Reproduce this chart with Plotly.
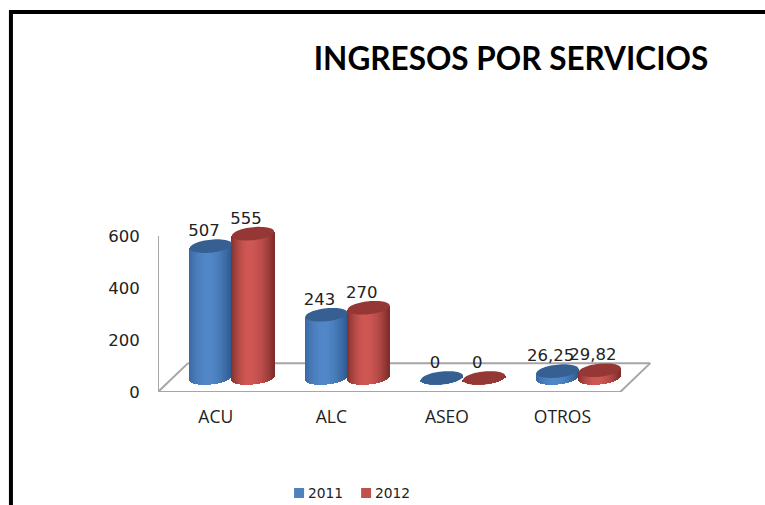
import numpy as np
import plotly.graph_objects as go

categories = ["ACU", "ALC", "ASEO", "OTROS"]
values_2011 = [507, 243, 0, 26.25]
values_2012 = [555, 270, 0, 29.82]
labels_2011 = ["507", "243", "0", "26,25"]
labels_2012 = ["555", "270", "0", "29,82"]
y_ticks = [0, 200, 400, 600]
series_names = ["2011", "2012"]
series_colors = ["#4f81bd", "#c0504d"]

W, H = 765, 505
L, R, T, B = 158, 87.25, 210, 113
PW, PH = W - L - R, H - T - B
X_MAX, Y_MAX = 4.5, 700

DEPTH_X, DEPTH_Y = 0.26, 111      # floor depth, in axis units
SHIFT_X, LIFT = 0.14, 54          # where the cylinders stand on the floor
BAR_W = 0.365
CAP_H = 25                        # half height of an ellipse
TILT = 8
N = 42

us = (np.arange(N) + 0.5) / N * 2 - 1
centers = np.arange(len(categories)) + 0.5


def shade(u, edge_l, edge_r, mid):
    t = np.clip((u + 0.12) / (1.12 if u >= -0.12 else 0.88), -1, 1)
    edge = np.array(edge_r if t > 0 else edge_l)
    a = abs(t) ** 1.8
    c = np.array(mid) * (1 - a) + edge * a
    return "rgb(%d,%d,%d)" % tuple(c)


def wall(values, offset, name, edge_l, edge_r, mid):
    xs, bases, hs, cols = [], [], [], []
    for c, v in zip(centers, values):
        for u in us:
            xs.append(c + SHIFT_X + offset + u * BAR_W / 2)
            bottom = LIFT - CAP_H * np.sqrt(1 - u * u) + TILT * u
            top = LIFT + v + TILT * u
            bases.append(bottom)
            hs.append(top - bottom)
            cols.append(shade(u, edge_l, edge_r, mid))
    return go.Bar(x=xs, y=hs, base=bases, width=BAR_W / N * 1.15, name=name,
                  marker=dict(color=cols, line=dict(width=0)),
                  showlegend=False, hoverinfo="skip", cliponaxis=False)


def cap(c, v, offset, color):
    t = np.linspace(0, 2 * np.pi, 60, endpoint=False)
    cu, su = np.cos(t), np.sin(t)
    px_ = c + SHIFT_X + offset + cu * BAR_W / 2
    py_ = LIFT + v + CAP_H * su + TILT * cu
    path = "M " + " L ".join(f"{a:.4f} {b:.2f}" for a, b in zip(px_, py_)) + " Z"
    return dict(type="path", path=path, xref="x", yref="y", fillcolor=color,
                line=dict(width=0), layer="above")


def px(x):
    return (x - L) / PW


def py(y):
    return (H - B - y) / PH


GRID = dict(color="#a6a6a6", width=2)
floor = [
    ((0, 0), (0, 600)),
    ((0, 0), (4, 0)),
    ((0, 0), (DEPTH_X, DEPTH_Y)),
    ((DEPTH_X, DEPTH_Y), (4 + DEPTH_X, DEPTH_Y)),
    ((4, 0), (4 + DEPTH_X, DEPTH_Y)),
]
shapes = [dict(type="line", xref="x", yref="y", x0=a[0], y0=a[1], x1=b[0], y1=b[1],
               line=GRID, layer="below") for a, b in floor]
shapes.append(dict(type="path", xref="paper", yref="paper",
                   path=f"M {px(11):.4f} {py(505):.4f} L {px(11):.4f} {py(12):.4f} L {px(765):.4f} {py(12):.4f}",
                   line=dict(color="#000000", width=4), layer="above"))
for c, v in zip(centers, values_2011):
    shapes.append(cap(c, v, -BAR_W / 2, "#376092"))
for c, v in zip(centers, values_2012):
    shapes.append(cap(c, v, BAR_W / 2, "#953735"))

fig = go.Figure()
fig.add_trace(wall(values_2011, -BAR_W / 2, "2011", (58, 105, 165), (46, 90, 145), (82, 136, 200)))
fig.add_trace(wall(values_2012, BAR_W / 2, "2012", (130, 50, 48), (125, 45, 43), (208, 88, 84)))

for vals, labs, off in ((values_2011, labels_2011, -BAR_W / 2), (values_2012, labels_2012, BAR_W / 2)):
    fig.add_trace(go.Scatter(
        x=centers + SHIFT_X + off - 0.06,
        y=np.array(vals) + LIFT + 54,
        text=labs, mode="text", textposition="middle center",
        textfont=dict(family="DejaVu Sans", size=16.5, color="#222222"),
        showlegend=False, hoverinfo="skip", cliponaxis=False))

annotations = []
for name, col, sx in zip(series_names, series_colors, (294, 361)):
    shapes.append(dict(type="rect", xref="paper", yref="paper", x0=px(sx), x1=px(sx + 10),
                       y0=py(498), y1=py(488), fillcolor=col, line=dict(width=0)))
    annotations.append(dict(text=name, xref="paper", yref="paper", x=px(sx + 12), y=py(493),
                            xanchor="left", yanchor="middle", showarrow=False,
                            font=dict(family="DejaVu Sans", size=13.8, color="#222222")))

fig.update_layout(
    width=W, height=H, autosize=False,
    margin=dict(l=L, r=R, t=T, b=B, autoexpand=False),
    paper_bgcolor="white", plot_bgcolor="white",
    barmode="overlay", bargap=0, showlegend=False,
    shapes=shapes, annotations=annotations,
    title=dict(text="<b>INGRESOS POR SERVICIOS</b>", x=511 / W, xref="container", xanchor="center",
               y=(H - 59) / H, yref="container", yanchor="middle",
               font=dict(family="Lato", size=31.5, color="#000000")),
    xaxis=dict(range=[0, X_MAX], tickmode="array", tickvals=list(centers), ticktext=categories,
               showgrid=False, zeroline=False, showline=False, ticks="outside", ticklen=9,
               tickcolor="rgba(0,0,0,0)", tickfont=dict(family="Open Sans", size=17.5, color="#222222")),
    yaxis=dict(range=[0, Y_MAX], tickmode="array", tickvals=y_ticks,
               showgrid=False, zeroline=False, showline=False, ticks="outside", ticklen=14,
               tickcolor="rgba(0,0,0,0)", tickfont=dict(family="DejaVu Sans", size=16.5, color="#222222")),
)
fig.write_html("out.html", post_script="document.body.style.margin='0';",
               config=dict(displayModeBar=False))
